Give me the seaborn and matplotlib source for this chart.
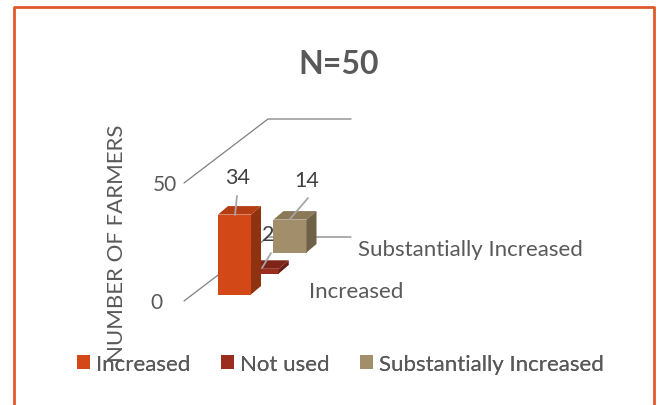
import matplotlib
matplotlib.use('Agg')
import matplotlib.pyplot as plt
import pandas as pd
import seaborn as sns
from matplotlib.patches import Polygon

sns.set_style('white')
plt.rcParams['font.family'] = ['Lato', 'DejaVu Sans']

categories = ['Increased', 'Not used', 'Substantially Increased']
farmers = [34, 2, 14]
colors = ['#D34817', '#9B2D1F', '#A28E6A']
top_colors = ['#B53D12', '#7F2418', '#8A7859']
side_colors = ['#8F3210', '#6B1E14', '#6E6148']
y_ticks = [0, 50]

W, H = 660, 406
GREY = '#595959'
LINE = '#7F7F7F'
BASE = 295.5

df = pd.DataFrame({'category': categories, 'farmers': farmers})

fig = plt.figure(figsize=(W / 100, H / 100), dpi=100)

# overlay in pixel coords for frame, walls and text
bg = fig.add_axes([0, 0, 1, 1], zorder=0)
bg.set_xlim(0, W)
bg.set_ylim(H, 0)
bg.axis('off')

ax = fig.add_axes([0, 0, 1, 1], zorder=1)
ax.patch.set_alpha(0)
sns.barplot(data=df, x='category', y='farmers', hue='category', order=categories,
            hue_order=categories, palette=colors, width=1.19, dodge=False,
            saturation=1, legend=True, linewidth=0, ax=ax)

# scales: one category step = 27.75 px, one farmer = 2.35 px, first bar at (234.5, BASE)
ax.set_xlim(-234.5 / 27.75, (W - 234.5) / 27.75)
ax.set_ylim((BASE - H) / 2.35, BASE / 2.35)
ax.set_xlabel('')
ax.set_ylabel('')

# fake depth: each series sits further back along the floor
dx = 10 / 27.75
dy = 8.5 / 2.35
back = 21 / 2.35
order_z = [5, 4, 3]
for i, bar in enumerate(ax.patches[:3]):
    bar.set_y(bar.get_y() + i * back)
    bar.set_zorder(order_z[i])
    x0, x1 = bar.get_x(), bar.get_x() + bar.get_width()
    y0, y1 = bar.get_y(), bar.get_y() + bar.get_height()
    ax.add_patch(Polygon([(x0, y1), (x0 + dx, y1 + dy), (x1 + dx, y1 + dy), (x1, y1)],
                         fc=top_colors[i], ec='none', zorder=order_z[i]))
    ax.add_patch(Polygon([(x1, y0), (x1 + dx, y0 + dy), (x1 + dx, y1 + dy), (x1, y1)],
                         fc=side_colors[i], ec='none', zorder=order_z[i]))

leg = ax.legend(loc='center left', bbox_to_anchor=(77 / W, 1 - 365 / H), ncols=3, frameon=False,
                fontsize=16, handlelength=0.6, handleheight=0.6, handletextpad=0.27,
                columnspacing=1.36, labelcolor=GREY, borderpad=0, borderaxespad=0)
ax.axis('off')
ax.add_artist(leg)

# chart frame, open at the bottom
bg.plot([14, 14, 654, 654], [H, 8, 8, H], color='#E0592B', lw=2)

# wall and floor edges
bg.plot([184, 268, 351], [184, 120, 120], color=LINE, lw=0.9)
bg.plot([184, 268, 351], [302, 238, 238], color=LINE, lw=0.9)

# leaders
for xs, ys in [([237, 235], [197, 216]), ([308, 290], [199, 220]), ([271, 262], [254, 269])]:
    ax.plot([(x - 234.5) / 27.75 for x in xs], [(BASE - y) / 2.35 for y in ys],
            color='#A6A6A6', lw=1.3, zorder=8)

over = fig.add_axes([0, 0, 1, 1], zorder=2)
over.patch.set_alpha(0)
over.set_xlim(0, W)
over.set_ylim(H, 0)
over.axis('off')

over.text(339, 64, 'N=50', ha='center', va='center', fontsize=23, fontweight='bold', color=GREY)
over.text(117, 243, 'NUMBER OF FARMERS', rotation=90, ha='center', va='center', fontsize=16, color=GREY)
over.text(156, 303, str(y_ticks[0]), ha='center', va='center', fontsize=15, color=GREY)
over.text(165, 185, str(y_ticks[1]), ha='center', va='center', fontsize=15, color=GREY)
for x, y, v in zip([238, 268, 307], [178, 235, 181], farmers):
    over.text(x, y, str(v), ha='center', va='center', fontsize=15.5, color='#404040')
over.text(356, 292, categories[0], ha='center', va='center', fontsize=16, color=GREY)
over.text(470, 250, categories[2], ha='center', va='center', fontsize=16, color=GREY)

fig.savefig('out.png', dpi=100)
